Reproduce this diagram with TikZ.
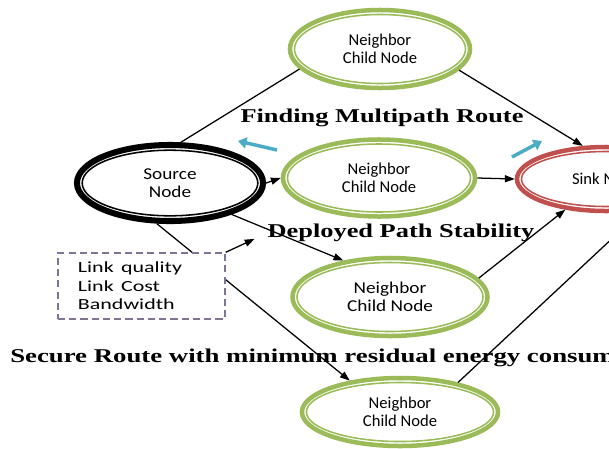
\documentclass[tikz,border=0pt]{standalone}
\usepackage{fontspec}
\setmainfont{Liberation Serif}
\newfontfamily\calib{Carlito}
\usetikzlibrary{shapes.geometric,arrows.meta}
\definecolor{ngreen}{RGB}{155,187,89}
\definecolor{sinkred}{RGB}{192,80,77}
\definecolor{hint}{RGB}{75,172,198}
\definecolor{boxline}{RGB}{128,115,150}
\newcommand{\sx}[2]{\scalebox{#1}[1]{#2}}
\tikzset{
  ring/.style={ellipse, draw=#1, line width=3.2pt, fill=white, inner sep=0pt, align=center,
    font=\calib\fontsize{11.8}{13.2}\selectfont},
  link/.style={line width=0.9pt, -{Triangle[length=7pt,width=5pt]}},
  hintarrow/.style={hint, line width=2.5pt, -{Triangle[length=6pt,width=8pt]}},
  title/.style={inner sep=0pt, font=\bfseries\fontsize{13.9}{16}\selectfont},
  infobox/.style={draw=boxline, line width=1pt, dash pattern=on 5pt off 3pt, fill=white,
    minimum width=4.175cm, minimum height=1.65cm, inner xsep=0.5cm, text width=3.175cm,
    align=left, font=\calib\fontsize{11}{13.2}\selectfont}
}
\begin{document}
\begin{tikzpicture}[x=0.025cm, y=-0.025cm]
        \useasboundingbox (0,0) rectangle (609,448);
        \clip (0,0) rectangle (609,448);
        \node[ring=black, line width=4.3pt, minimum width=4.65cm, minimum height=1.9cm] (src) at (170,183) {\sx{1.16}{Source}\\\sx{1.16}{Node}};
        \node[ring=ngreen, minimum width=4.5cm, minimum height=1.95cm] (nb1) at (380,49) {Neighbor\\Child Node};
        \node[ring=ngreen, minimum width=4.8cm, minimum height=1.925cm] (nb2) at (379,178) {Neighbor\\Child Node};
        \node[ring=ngreen, minimum width=4.875cm, minimum height=1.95cm] (nb3) at (390,297) {\sx{1.16}{Neighbor}\\\sx{1.16}{Child Node}};
        \node[ring=ngreen, minimum width=4.9cm, minimum height=1.7cm] (nb4) at (400,412) {Neighbor\\Child Node};
        \node[ring=sinkred, minimum width=4.45cm, minimum height=1.6cm] (sink) at (606,179) {Sink Node};
        \foreach \n/\c/\rx/\ry in {src/black/2.195/0.82, nb1/ngreen/2.1375/0.8625, nb2/ngreen/2.2875/0.85,
          nb3/ngreen/2.325/0.8625, nb4/ngreen/2.3375/0.7375, sink/sinkred/2.1125/0.6875}
          \draw[\c, line width=1.1pt] (\n.center) ellipse [x radius=\rx cm, y radius=\ry cm];
        \node[title] (multi) at (382,118) {\sx{1.35}{Finding Multipath Route}};
        \node[title] (deploy) at (401,233) {\sx{1.35}{Deployed Path Stability}};
        \node[title, anchor=base west] (secure) at (10,362) {\sx{1.37}{Secure Route with minimum residual energy consumption}};
        \draw[line width=0.9pt] (src.75) -- (nb1.194);
        \draw[link] (nb1.345) -- (sink.125);
        \draw[link] (src.east) -- (nb2.west);
        \draw[link] (nb2.east) -- (sink.west);
        \draw[link] (src.333) -- (nb3.142);
        \draw[link] (nb3.12) -- (sink.217);
        \draw[link] (src.252) -- (nb4.148);
        \draw[link] (nb4.27) -- (sink.319);
        \node[infobox] (info) at (141.5,286) {\sx{1.42}{Link quality}\\\sx{1.42}{Link Cost}\\\sx{1.42}{Bandwidth}};
        \draw[link, shorten >=10pt] (info.north east) -- (deploy.west);
        \coordinate (h1) at (277,150);
        \coordinate (h1e) at (238,141);
        \coordinate (h2) at (512,157);
        \coordinate (h2e) at (542,141);
        \draw[hintarrow] (h1) -- (h1e);
        \draw[hintarrow] (h2) -- (h2e);
\end{tikzpicture}
\end{document}
